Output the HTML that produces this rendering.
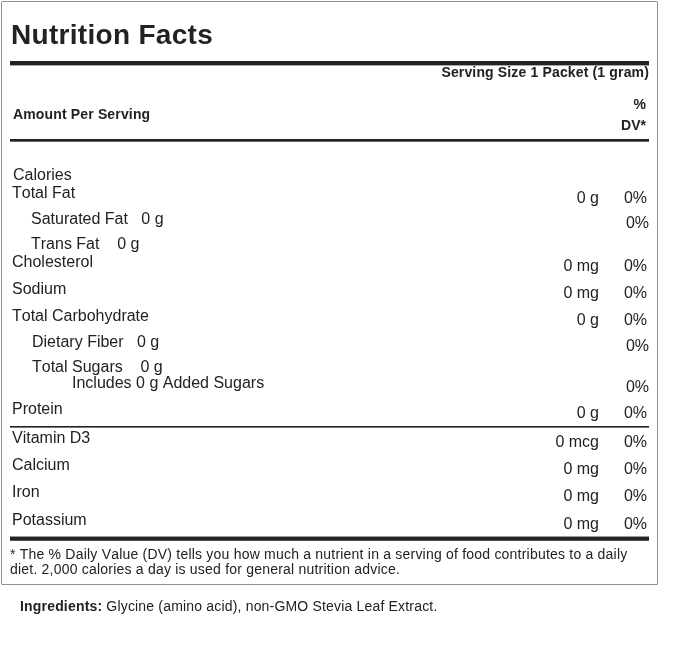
<!DOCTYPE html>
<html><head><meta charset="utf-8">
<style>
html,body{margin:0;padding:0;background:#fff;}
body{width:679px;height:657px;position:relative;overflow:hidden;font-family:"Liberation Sans",Arial,sans-serif;color:#222;}
.box{position:absolute;left:1px;top:1px;width:655px;height:582px;border:1px solid #929292;border-radius:1px;}
.t{position:absolute;white-space:nowrap;line-height:1;font-kerning:none;}
.r{text-align:right;}
.rule{position:absolute;left:10px;width:639px;background:#222;}
.n{font-size:16px;}
.b{font-weight:bold;}
</style></head><body>
<div class="box"></div>
<div class="t b" id="title" style="left:11px;top:21px;font-size:28px;letter-spacing:0.3px;">Nutrition Facts</div>
<div class="rule" style="top:61px;height:4px;"></div><div class="rule" style="top:65px;height:1px;background:#a8a8a8;"></div>
<div class="t b r" id="serv" style="right:30px;top:65px;font-size:14px;letter-spacing:0.15px;">Serving Size 1 Packet (1 gram)</div>
<div class="t b r" id="pct" style="right:33px;top:97px;font-size:14px;">%</div>
<div class="t b r" id="dv" style="right:33px;top:118px;font-size:14px;">DV*</div>
<div class="t b" id="aps" style="left:13px;top:107px;font-size:14px;letter-spacing:0.15px;">Amount Per Serving</div>
<div class="rule" style="top:139px;height:2px;"></div><div class="rule" style="top:141px;height:1px;background:#666;"></div>

<div class="t n" style="left:13px;top:167px;">Calories</div>
<div class="t n" style="left:12px;top:185px;">Total Fat</div>
<div class="t n r" style="right:80px;top:190px;">0 g</div>
<div class="t n r" style="right:32px;top:190px;">0%</div>
<div class="t n" style="left:31px;top:211px;">Saturated Fat&nbsp;&nbsp; 0 g</div>
<div class="t n r" style="right:30px;top:215px;">0%</div>
<div class="t n" style="left:31px;top:236px;">Trans Fat&nbsp;&nbsp;&nbsp; 0 g</div>
<div class="t n" style="left:12px;top:254px;">Cholesterol</div>
<div class="t n r" style="right:80px;top:258px;">0 mg</div>
<div class="t n r" style="right:32px;top:258px;">0%</div>
<div class="t n" style="left:12px;top:281px;">Sodium</div>
<div class="t n r" style="right:80px;top:285px;">0 mg</div>
<div class="t n r" style="right:32px;top:285px;">0%</div>
<div class="t n" style="left:12px;top:308px;">Total Carbohydrate</div>
<div class="t n r" style="right:80px;top:312px;">0 g</div>
<div class="t n r" style="right:32px;top:312px;">0%</div>
<div class="t n" style="left:32px;top:334px;">Dietary Fiber&nbsp;&nbsp; 0 g</div>
<div class="t n r" style="right:30px;top:338px;">0%</div>
<div class="t n" style="left:32px;top:359px;">Total Sugars&nbsp;&nbsp;&nbsp; 0 g</div>
<div class="t n" style="left:72px;top:375px;">Includes 0 g Added Sugars</div>
<div class="t n r" style="right:30px;top:379px;">0%</div>
<div class="t n" style="left:12px;top:401px;">Protein</div>
<div class="t n r" style="right:80px;top:405px;">0 g</div>
<div class="t n r" style="right:32px;top:405px;">0%</div>
<div class="rule" style="top:426px;height:1px;"></div><div class="rule" style="top:427px;height:1px;background:#777;"></div>
<div class="t n" style="left:12px;top:430px;">Vitamin D3</div>
<div class="t n r" style="right:80px;top:434px;">0 mcg</div>
<div class="t n r" style="right:32px;top:434px;">0%</div>
<div class="t n" style="left:12px;top:457px;">Calcium</div>
<div class="t n r" style="right:80px;top:461px;">0 mg</div>
<div class="t n r" style="right:32px;top:461px;">0%</div>
<div class="t n" style="left:12px;top:484px;">Iron</div>
<div class="t n r" style="right:80px;top:488px;">0 mg</div>
<div class="t n r" style="right:32px;top:488px;">0%</div>
<div class="t n" style="left:12px;top:512px;">Potassium</div>
<div class="t n r" style="right:80px;top:516px;">0 mg</div>
<div class="t n r" style="right:32px;top:516px;">0%</div>
<div class="rule" style="top:536px;height:1px;background:#999;"></div><div class="rule" style="top:537px;height:3px;"></div><div class="rule" style="top:540px;height:1px;background:#555;"></div>
<div class="t" id="fn1" style="left:10px;top:547px;font-size:14px;letter-spacing:0.21px;">* The % Daily Value (DV) tells you how much a nutrient in a serving of food contributes to a daily</div>
<div class="t" id="fn2" style="left:10px;top:562px;font-size:14px;letter-spacing:0.21px;">diet. 2,000 calories a day is used for general nutrition advice.</div>
<div class="t" id="ing" style="left:20px;top:599px;font-size:14px;letter-spacing:0.18px;"><b>Ingredients:</b> Glycine (amino acid), non-GMO Stevia Leaf Extract.</div>
</body></html>
